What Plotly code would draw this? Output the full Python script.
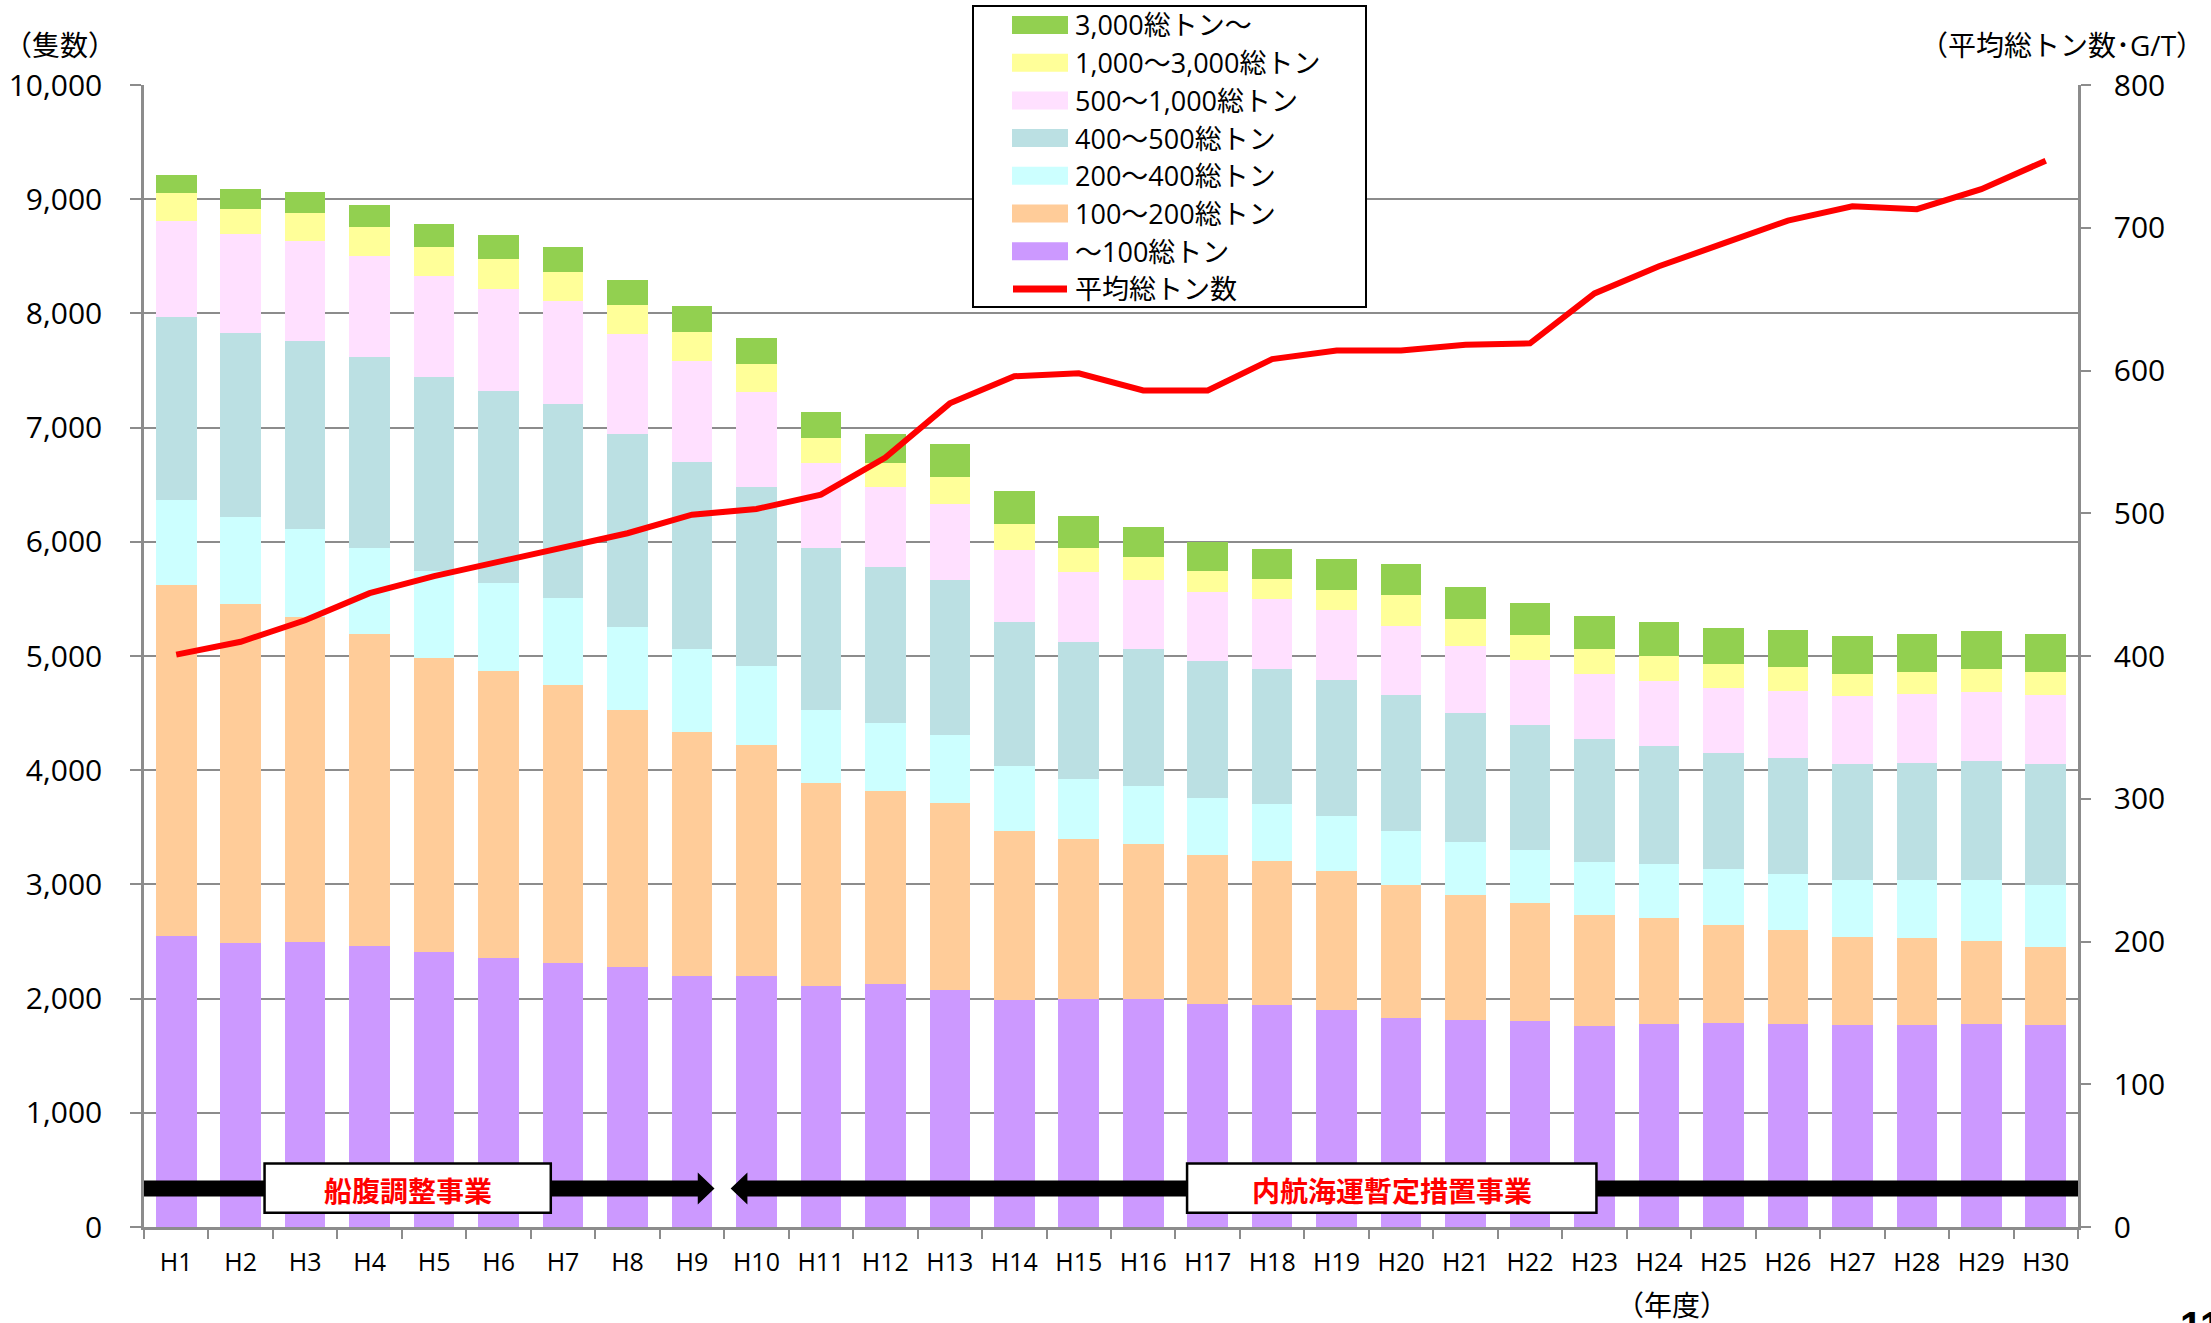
import plotly.graph_objects as go

# ---------------- data ----------------
years = [f"H{i}" for i in range(1, 31)]

series_names = ["～100総トン", "100～200総トン", "200～400総トン", "400～500総トン",
                "500～1,000総トン", "1,000～3,000総トン", "3,000総トン～"]
series_colors = ["#CC99FF", "#FFCC99", "#CCFFFF", "#BBE0E3", "#FFE0FF", "#FFFF99", "#92D050"]

under_100 = [2547, 2491, 2494, 2460, 2404, 2355, 2310, 2276, 2197, 2195,
             2111, 2128, 2076, 1991, 1994, 2000, 1953, 1942, 1901, 1828,
             1817, 1808, 1764, 1776, 1784, 1776, 1767, 1767, 1776, 1767]
t100_200 = [3078, 2962, 2850, 2735, 2577, 2510, 2438, 2254, 2138, 2029,
            1781, 1694, 1641, 1481, 1400, 1356, 1301, 1262, 1216, 1163,
            1094, 1027, 972, 928, 861, 828, 776, 761, 732, 688]
t200_400 = [738, 762, 765, 754, 765, 776, 764, 728, 728, 692,
            636, 589, 595, 563, 527, 510, 504, 496, 486, 481,
            464, 470, 464, 472, 487, 491, 499, 511, 531, 540]
t400_500 = [1606, 1617, 1653, 1672, 1695, 1683, 1695, 1687, 1636, 1562,
            1415, 1369, 1351, 1260, 1201, 1192, 1194, 1183, 1189, 1185,
            1129, 1094, 1073, 1039, 1016, 1015, 1015, 1027, 1045, 1062]
t500_1000 = [843, 859, 875, 883, 887, 887, 902, 879, 887, 838,
             745, 704, 672, 634, 614, 611, 609, 613, 611, 609,
             586, 563, 569, 569, 575, 584, 590, 598, 598, 602]
t1000_3000 = [239, 227, 238, 250, 254, 266, 254, 250, 254, 237,
              225, 210, 234, 231, 213, 195, 181, 179, 172, 265,
              237, 225, 216, 213, 210, 210, 198, 196, 201, 198]
over_3000 = [160, 172, 184, 195, 203, 211, 215, 219, 226, 234,
             228, 251, 289, 289, 281, 266, 257, 265, 275, 278,
             280, 280, 295, 301, 312, 327, 333, 330, 336, 339]

avg_gt = [401, 410, 425, 444, 456, 466, 476, 486, 499, 503,
          513, 539, 577, 596, 598, 586, 586, 608, 614, 614,
          618, 619, 654, 673, 689, 705, 715, 713, 727, 747]
line_name = "平均総トン数"

left_ticks = list(range(0, 10001, 1000))
right_ticks = list(range(0, 801, 100))

program1 = "船腹調整事業"
program2 = "内航海運暫定措置事業"

series_values = [under_100, t100_200, t200_400, t400_500, t500_1000, t1000_3000, over_3000]

# ---------------- layout helpers ----------------
W, H = 2211, 1323
PL, PR, PT, PB = 144, 2078, 85, 1227
N = len(years)
FONT = "Open Sans, Noto Sans CJK JP, sans-serif"
GRID = "#8C8C8C"


def fx(px):
    return (px - PL) / (PR - PL)


def fy(py):
    return (PB - py) / (PB - PT)


def ix(i):
    return (i + 0.5) / N


fig = go.Figure()
for name, vals, col in zip(series_names, series_values, series_colors):
    fig.add_trace(go.Bar(x=years, y=vals, name=name, marker_color=col,
                         marker_line_width=0, showlegend=False))

fig.add_trace(go.Scatter(x=years, y=avg_gt, name=line_name, yaxis="y2", mode="lines",
                         line=dict(color="#FF0000", width=6), showlegend=False))

shapes = []
annotations = []

# ---- arrows and program boxes (y in left-axis units, x in paper) ----
yc, half_body, half_head = 338, 70, 140
head_len = 0.26
a1_start, a1_tip = -0.5, 8.35
a1_base = a1_tip - head_len
p = (f"M {ix(a1_start)},{yc - half_body} L {ix(a1_base)},{yc - half_body} "
     f"L {ix(a1_base)},{yc - half_head} L {ix(a1_tip)},{yc} "
     f"L {ix(a1_base)},{yc + half_head} L {ix(a1_base)},{yc + half_body} "
     f"L {ix(a1_start)},{yc + half_body} Z")
shapes.append(dict(type="path", xref="paper", yref="y", path=p,
                   fillcolor="black", line=dict(width=0), layer="above"))
a2_tip, a2_end = 8.6, 29.5
a2_base = a2_tip + head_len
p = (f"M {ix(a2_end)},{yc - half_body} L {ix(a2_base)},{yc - half_body} "
     f"L {ix(a2_base)},{yc - half_head} L {ix(a2_tip)},{yc} "
     f"L {ix(a2_base)},{yc + half_head} L {ix(a2_base)},{yc + half_body} "
     f"L {ix(a2_end)},{yc + half_body} Z")
shapes.append(dict(type="path", xref="paper", yref="y", path=p,
                   fillcolor="black", line=dict(width=0), layer="above"))

for (b0, b1, txt) in [(1.37, 5.81, program1), (15.68, 22.03, program2)]:
    shapes.append(dict(type="rect", xref="paper", yref="y", x0=ix(b0), x1=ix(b1),
                       y0=124, y1=556, fillcolor="white",
                       line=dict(color="black", width=2.5), layer="above"))
    annotations.append(dict(xref="paper", yref="y", x=ix((b0 + b1) / 2), y=325,
                            text=f"<b>{txt}</b>", showarrow=False,
                            font=dict(family="Noto Sans CJK JP", size=28, color="#FF0000"),
                            xanchor="center", yanchor="middle"))

# ---- custom legend ----
lg_x0, lg_x1, lg_y0, lg_y1 = 973, 1366, 6, 307
shapes.append(dict(type="rect", xref="paper", yref="paper", x0=fx(lg_x0), x1=fx(lg_x1),
                   y0=fy(lg_y1), y1=fy(lg_y0), fillcolor="white",
                   line=dict(color="black", width=2), layer="above"))
row_y = [25, 62.7, 100.4, 138.1, 175.8, 213.5, 251.2, 288.9]
legend_items = list(zip(series_names[::-1], series_colors[::-1]))
for k, (name, col) in enumerate(legend_items):
    cy = row_y[k]
    shapes.append(dict(type="rect", xref="paper", yref="paper", x0=fx(1012), x1=fx(1068),
                       y0=fy(cy + 9), y1=fy(cy - 9), fillcolor=col,
                       line=dict(width=0), layer="above"))
    annotations.append(dict(xref="paper", yref="paper", x=fx(1073), y=fy(cy), text=name,
                            showarrow=False, xanchor="left", yanchor="middle",
                            font=dict(family=FONT, size=27, color="black")))
cy = row_y[7]
shapes.append(dict(type="line", xref="paper", yref="paper", x0=fx(1013), x1=fx(1067),
                   y0=fy(cy), y1=fy(cy), line=dict(color="#FF0000", width=7), layer="above"))
annotations.append(dict(xref="paper", yref="paper", x=fx(1073), y=fy(cy), text=line_name,
                        showarrow=False, xanchor="left", yanchor="middle",
                        font=dict(family=FONT, size=27, color="black")))

# ---- axis titles ----
annotations.append(dict(xref="paper", yref="paper", x=fx(60), y=fy(45), text="（隻数）",
                        showarrow=False, xanchor="center", yanchor="middle",
                        font=dict(family=FONT, size=28, color="black")))
annotations.append(dict(xref="paper", yref="paper", x=fx(2206), y=fy(45),
                        text="（平均総トン数･G/T）", showarrow=False,
                        xanchor="right", yanchor="middle",
                        font=dict(family=FONT, size=28, color="black")))
annotations.append(dict(xref="paper", yref="paper", x=fx(1672), y=fy(1305), text="（年度）",
                        showarrow=False, xanchor="center", yanchor="middle",
                        font=dict(family=FONT, size=28, color="black")))
annotations.append(dict(xref="paper", yref="paper", x=fx(2178), y=fy(1302), text="<b>11</b>",
                        showarrow=False, xanchor="left", yanchor="top",
                        font=dict(family="Liberation Sans", size=40, color="black")))

fig.update_layout(
    width=W, height=H,
    margin=dict(l=PL, r=W - PR, t=PT, b=H - PB, pad=0, autoexpand=False),
    paper_bgcolor="white", plot_bgcolor="white",
    barmode="stack", bargap=0.37,
    font=dict(family=FONT, color="black"),
    showlegend=False,
    shapes=shapes, annotations=annotations,
    xaxis=dict(type="category", showline=True, linecolor=GRID, linewidth=2.5,
               ticks="outside", tickson="boundaries", ticklen=9, tickcolor=GRID,
               tickwidth=2, showgrid=False, tickfont=dict(size=25, family=FONT),
               ticklabelstandoff=11, range=[-0.5, N - 0.5], automargin=False),
    yaxis=dict(range=[0, 10000], tickvals=left_ticks, tickformat=",d",
               showline=True, linecolor=GRID, linewidth=2.5,
               showgrid=True, gridcolor=GRID, gridwidth=2, zeroline=False,
               ticks="outside", ticklen=11, tickcolor=GRID, tickwidth=2,
               tickfont=dict(size=30, family=FONT), ticklabelstandoff=22,
               automargin=False),
    yaxis2=dict(range=[0, 800], tickvals=right_ticks, overlaying="y", side="right",
                showline=True, linecolor=GRID, linewidth=2.5, showgrid=False,
                zeroline=False, ticks="outside", ticklen=10, tickcolor=GRID, tickwidth=2,
                tickfont=dict(size=30, family=FONT), ticklabelstandoff=17,
                automargin=False),
)

fig.write_html("out.html")
